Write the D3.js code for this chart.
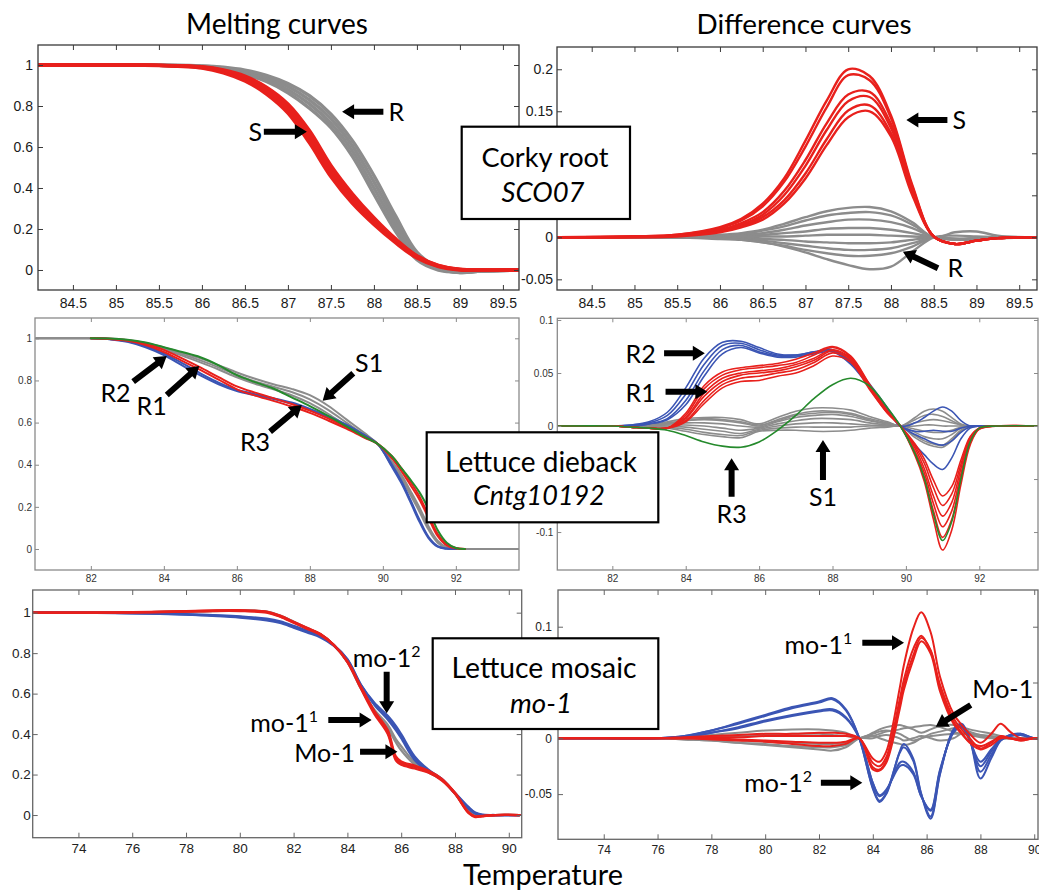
<!DOCTYPE html>
<html><head><meta charset="utf-8">
<script src="https://cdn.jsdelivr.net/npm/d3@7"></script>
<style>
body{margin:0;background:#fff;}
svg{display:block;}
</style></head><body>
<svg id="chart" width="1039" height="890"></svg>
<script>
// ---------------- DATA ----------------
// Corky root SCO07 : melting curves
const tempSCOmelt = [84.1,85,85.5,86,86.25,86.5,86.75,87,87.25,87.5,87.75,88,88.25,88.5,88.75,89,89.25,89.7];
const scoMeltS1 = [1,1,0.997,0.985,0.962,0.922,0.858,0.765,0.62,0.455,0.325,0.222,0.133,0.058,0.016,0,-0.002,0];
const scoMeltS2 = [1,1,0.998,0.988,0.967,0.93,0.868,0.78,0.64,0.472,0.342,0.235,0.142,0.063,0.019,0.002,0,0];
const scoMeltS3 = [1,1,0.998,0.99,0.972,0.938,0.88,0.795,0.66,0.49,0.358,0.245,0.148,0.067,0.021,0.003,0,0];
const scoMeltS4 = [1,1,0.999,0.992,0.976,0.946,0.892,0.81,0.68,0.51,0.372,0.255,0.153,0.07,0.023,0.004,0,0];
const scoMeltR1 = [1,1,0.998,0.99,0.98,0.955,0.92,0.865,0.79,0.695,0.555,0.37,0.19,0.05,0,-0.01,-0.004,0];
const scoMeltR2 = [1,1,0.998,0.992,0.983,0.962,0.93,0.88,0.81,0.715,0.58,0.4,0.215,0.062,0.004,-0.011,-0.005,0];
const scoMeltR3 = [1,1,0.999,0.994,0.986,0.968,0.94,0.895,0.83,0.738,0.605,0.43,0.24,0.075,0.008,-0.012,-0.005,0];
const scoMeltR4 = [1,1,0.999,0.996,0.989,0.975,0.95,0.91,0.85,0.76,0.63,0.46,0.265,0.087,0.012,-0.012,-0.005,0];

// Corky root SCO07 : difference curves
const tempSCOdiff = [84.1,85,85.5,86,86.25,86.5,86.75,87,87.25,87.5,87.75,88,88.25,88.5,88.75,89,89.25,89.7];
const scoDiffS1 = [0,0.001,0.003,0.012,0.022,0.04,0.07,0.115,0.163,0.2,0.192,0.145,0.062,0.001,-0.008,-0.004,-0.001,0];
const scoDiffS2 = [0,0.001,0.003,0.011,0.02,0.037,0.066,0.108,0.155,0.193,0.187,0.142,0.06,0.001,-0.008,-0.004,-0.001,0];
const scoDiffS3 = [0,0.001,0.002,0.009,0.017,0.03,0.055,0.092,0.136,0.17,0.173,0.135,0.058,0.001,-0.008,-0.004,-0.001,0];
const scoDiffS4 = [0,0.001,0.002,0.008,0.015,0.027,0.05,0.085,0.128,0.162,0.167,0.13,0.056,0.001,-0.008,-0.004,-0.001,0];
const scoDiffS5 = [0,0,0.002,0.007,0.013,0.024,0.044,0.076,0.117,0.151,0.157,0.124,0.053,0.001,-0.008,-0.004,-0.001,0];
const scoDiffS6 = [0,0,0.001,0.006,0.012,0.021,0.04,0.07,0.11,0.143,0.15,0.12,0.05,0.001,-0.008,-0.004,-0.001,0];
const scoDiffR1 = [0,0,0.001,0.003,0.005,0.009,0.016,0.024,0.031,0.035,0.036,0.031,0.018,0,0.006,0.007,0.002,0];
const scoDiffR2 = [0,0,0.001,0.002,0.004,0.008,0.013,0.02,0.026,0.029,0.03,0.026,0.015,0,-0.002,-0.002,-0.001,0];
const scoDiffR3 = [0,0,0,0.001,0.003,0.005,0.009,0.014,0.018,0.021,0.021,0.018,0.011,0,-0.002,-0.002,-0.001,0];
const scoDiffR4 = [0,0,0,0.001,0.002,0.003,0.005,0.007,0.01,0.011,0.011,0.009,0.005,0,-0.003,-0.002,0,0];
const scoDiffR5 = [0,0,0,0,0,0.001,0.001,0.002,0.003,0.003,0.003,0.002,0.001,0,-0.003,-0.002,0,0];
const scoDiffR6 = [0,0,0,0,-0.001,-0.002,-0.003,-0.005,-0.006,-0.007,-0.007,-0.006,-0.003,0,-0.002,-0.002,0,0];
const scoDiffR7 = [0,0,0,-0.001,-0.002,-0.004,-0.007,-0.01,-0.013,-0.015,-0.015,-0.013,-0.007,0,-0.002,-0.001,0,0];
const scoDiffR8 = [0,0,0,-0.002,-0.003,-0.006,-0.01,-0.015,-0.019,-0.022,-0.022,-0.019,-0.011,0,-0.002,-0.001,0,0];
const scoDiffR9 = [0,0,0,-0.001,-0.003,-0.006,-0.011,-0.018,-0.026,-0.033,-0.038,-0.035,-0.017,0,0.002,0.001,0,0];

// Lettuce dieback Cntg10192 : melting curves
const tempCntgMelt = [80.5,82,82.5,83,83.5,84,84.5,85,85.5,86,86.5,87,87.5,88,88.5,89,89.5,89.85,90.25,90.5,90.75,91,91.25,91.5,91.75,92,92.25,93.7];
const cntgMeltS1a = [1,1,0.999,0.992,0.978,0.957,0.932,0.905,0.873,0.838,0.808,0.782,0.76,0.73,0.68,0.615,0.55,0.5,0.415,0.355,0.278,0.198,0.108,0.04,0.008,0,0,0];
const cntgMeltS1b = [1,1,0.998,0.99,0.975,0.952,0.925,0.895,0.862,0.826,0.795,0.77,0.745,0.71,0.66,0.6,0.54,0.5,0.405,0.345,0.268,0.188,0.1,0.035,0.006,0,0,0];
const cntgMeltS1c = [1,1,0.997,0.988,0.972,0.947,0.918,0.886,0.852,0.815,0.784,0.758,0.73,0.692,0.642,0.585,0.53,0.5,0.395,0.335,0.258,0.178,0.092,0.03,0.004,0,0,0];
const cntgMeltR2a = [null,1,0.997,0.986,0.962,0.928,0.882,0.834,0.79,0.756,0.735,0.716,0.695,0.665,0.63,0.59,0.54,0.5,0.4,0.325,0.235,0.14,0.058,0.014,0.002,0,null,null];
const cntgMeltR2b = [null,1,0.996,0.983,0.957,0.92,0.872,0.824,0.782,0.75,0.73,0.712,0.69,0.66,0.625,0.585,0.537,0.5,0.39,0.315,0.225,0.13,0.052,0.011,0.001,0,null,null];
const cntgMeltR1a = [null,1,0.998,0.991,0.975,0.945,0.905,0.862,0.816,0.772,0.742,0.716,0.688,0.657,0.62,0.578,0.532,0.5,0.44,0.385,0.32,0.25,0.16,0.072,0.022,0.005,0,null];
const cntgMeltR1b = [null,1,0.997,0.988,0.968,0.935,0.893,0.85,0.804,0.758,0.728,0.703,0.676,0.646,0.61,0.571,0.528,0.5,0.43,0.372,0.305,0.235,0.148,0.062,0.017,0.003,0,null];
const cntgMeltR3 = [null,1,0.999,0.993,0.98,0.958,0.935,0.91,0.872,0.825,0.792,0.762,0.72,0.678,0.632,0.582,0.532,0.5,0.44,0.385,0.33,0.27,0.19,0.09,0.03,0.005,0,null];

// Lettuce dieback Cntg10192 : difference curves
const tempCntgDiff = [80.5,82,82.5,83,83.5,84,84.5,85,85.5,86,86.5,87,87.5,88,88.5,89,89.5,89.85,90.25,90.5,90.75,91,91.25,91.5,91.75,92,92.5,93.6];
const cntgDiffS1a = [0,0,0,0.001,0.004,0.007,0.008,0.008,0.006,0.002,0.008,0.014,0.017,0.017,0.015,0.009,0.004,0,0.008,0.014,0.016,0.014,0.008,0.002,0,0,0,0];
const cntgDiffS1b = [0,0,0,0.001,0.003,0.005,0.006,0.005,0.003,0,0.006,0.011,0.014,0.014,0.012,0.007,0.003,0,0.006,0.01,0.011,0.009,0.005,0.001,0,0,0,0];
const cntgDiffS1c = [0,0,0,0,0.002,0.003,0.003,0.002,0,-0.001,0.004,0.008,0.01,0.011,0.009,0.005,0.002,0,0.003,0.005,0.006,0.005,0.003,0.001,0,0,0,0];
const cntgDiffS1d = [0,0,0,0,0.001,0.001,0,-0.002,-0.004,-0.002,0.002,0.005,0.007,0.007,0.006,0.003,0.001,0,0,0.001,0.001,0,0,0,0,0,0,0];
const cntgDiffS1e = [0,0,0,0,0,-0.001,-0.003,-0.005,-0.007,-0.003,0,0.002,0.003,0.003,0.002,0.001,0,0,-0.003,-0.005,-0.006,-0.006,-0.004,-0.001,0,0,0,0];
const cntgDiffS1f = [0,0,0,-0.001,-0.001,-0.003,-0.006,-0.008,-0.009,-0.004,-0.002,-0.001,-0.001,-0.001,-0.001,0,0,0,-0.006,-0.01,-0.012,-0.012,-0.008,-0.002,0,0,0,0];
const cntgDiffS1g = [0,0,0,-0.001,-0.002,-0.005,-0.008,-0.01,-0.011,-0.005,-0.004,-0.004,-0.005,-0.005,-0.004,-0.002,-0.001,0,-0.009,-0.014,-0.017,-0.018,-0.012,-0.004,0,0,0,0];
const cntgDiffS1h = [0,0,0,0,0.002,0.005,0.007,0.006,0.004,0.001,0.005,0.01,0.012,0.013,0.011,0.006,0.002,0,-0.011,-0.016,-0.019,-0.02,-0.014,-0.005,-0.001,0,0,0];
const cntgDiffR2a = [0,0,0.001,0.004,0.013,0.036,0.064,0.079,0.08,0.074,0.068,0.067,0.07,0.072,0.061,0.04,0.017,0,-0.018,-0.027,-0.036,-0.041,-0.03,-0.012,-0.002,0,0,0];
const cntgDiffR2b = [0,0,0.001,0.003,0.01,0.03,0.058,0.076,0.078,0.072,0.067,0.067,0.07,0.072,0.06,0.039,0.016,0,-0.008,-0.012,-0.016,-0.018,-0.014,-0.006,-0.001,0,0,0];
const cntgDiffR2c = [0,0,0,0.002,0.007,0.024,0.052,0.072,0.076,0.07,0.066,0.066,0.069,0.071,0.059,0.038,0.016,0,0.003,0.008,0.014,0.018,0.014,0.005,0,0,0,0];
const cntgDiffR2d = [0,0,0,0.002,0.006,0.02,0.047,0.068,0.074,0.069,0.065,0.065,0.068,0.07,0.058,0.037,0.015,0,-0.005,-0.005,-0.004,-0.005,-0.005,-0.002,0,0,0,0];
const cntgDiffR1a = [0,0,-0.001,-0.002,-0.002,0.012,0.038,0.051,0.055,0.057,0.059,0.063,0.069,0.075,0.066,0.04,0.014,0,-0.028,-0.052,-0.088,-0.117,-0.098,-0.055,-0.018,-0.003,0,0];
const cntgDiffR1b = [0,0,-0.001,-0.002,-0.002,0.01,0.035,0.048,0.053,0.055,0.057,0.06,0.067,0.074,0.065,0.039,0.014,0,-0.026,-0.048,-0.08,-0.105,-0.088,-0.05,-0.016,-0.003,0,0];
const cntgDiffR1c = [0,0,-0.001,-0.002,-0.002,0.008,0.031,0.045,0.05,0.052,0.054,0.058,0.064,0.072,0.064,0.038,0.013,0,-0.024,-0.044,-0.073,-0.095,-0.08,-0.045,-0.014,-0.002,0,0];
const cntgDiffR1d = [0,0,-0.001,-0.002,-0.002,0.007,0.028,0.042,0.048,0.05,0.052,0.056,0.062,0.071,0.063,0.037,0.013,0,-0.021,-0.04,-0.066,-0.085,-0.072,-0.04,-0.012,-0.002,0,0];
const cntgDiffR1e = [0,0,-0.001,-0.002,-0.002,0.005,0.024,0.039,0.045,0.047,0.05,0.053,0.06,0.069,0.062,0.036,0.012,0,-0.019,-0.035,-0.058,-0.075,-0.064,-0.036,-0.011,-0.002,0,0];
const cntgDiffR1f = [0,0,-0.001,-0.002,-0.002,0.004,0.021,0.036,0.042,0.043,0.047,0.05,0.057,0.066,0.06,0.035,0.012,0,-0.017,-0.031,-0.051,-0.066,-0.057,-0.032,-0.01,-0.002,0,0];
const cntgDiffR3 = [0,0,-0.001,-0.002,-0.004,-0.009,-0.015,-0.019,-0.02,-0.015,-0.004,0.01,0.026,0.039,0.045,0.038,0.017,0,-0.026,-0.049,-0.083,-0.108,-0.09,-0.05,-0.015,-0.002,0,0];

// Lettuce mosaic mo-1 : melting curves
const tempMoMelt = [72.3,74,76,78,79,80,81,81.5,82,82.5,83,83.5,84,84.5,85,85.5,85.8,86,86.5,87,87.5,88,88.5,88.75,89,89.5,90.4];
const moMeltM1a = [1,1,1.002,1.008,1.011,1.012,1.005,0.985,0.955,0.925,0.895,0.84,0.755,0.625,0.5,0.4,0.27,0.248,0.23,0.21,0.172,0.105,0.01,-0.01,-0.006,0,0];
const moMeltM1b = [1,1,1.001,1.006,1.009,1.01,1.003,0.982,0.952,0.922,0.893,0.84,0.758,0.63,0.51,0.41,0.28,0.256,0.238,0.216,0.176,0.108,0.012,-0.008,-0.005,0,0];
const moMeltM1c = [1,1,1.001,1.005,1.008,1.008,1,0.98,0.95,0.92,0.89,0.838,0.76,0.635,0.515,0.42,0.29,0.265,0.244,0.22,0.18,0.11,0.015,-0.006,-0.004,0,0];
const moMeltM2a = [1,1,0.998,0.993,0.988,0.982,0.97,0.957,0.935,0.91,0.885,0.84,0.77,0.645,0.555,0.49,0.44,0.4,0.29,0.225,0.18,0.11,0.04,0.012,0.002,0,0];
const moMeltM2b = [1,1,0.998,0.992,0.986,0.979,0.966,0.953,0.93,0.906,0.882,0.838,0.768,0.642,0.55,0.48,0.43,0.39,0.28,0.22,0.178,0.108,0.035,0.01,0.001,0,0];
const moMeltM2c = [1,1,0.997,0.99,0.984,0.976,0.962,0.949,0.926,0.902,0.878,0.836,0.765,0.64,0.545,0.472,0.42,0.38,0.272,0.215,0.176,0.106,0.032,0.008,0,0,0];
const moMeltWTa = [1,1,1.001,1.005,1.008,1.01,1.004,0.984,0.955,0.924,0.893,0.84,0.758,0.63,0.52,0.445,0.375,0.34,0.26,0.215,0.176,0.107,0.02,0,-0.003,0,0];
const moMeltWTb = [1,1,1.001,1.006,1.009,1.011,1.005,0.985,0.955,0.924,0.892,0.838,0.755,0.625,0.515,0.43,0.36,0.32,0.25,0.212,0.175,0.106,0.018,-0.002,-0.004,0,0];

// Lettuce mosaic mo-1 : difference curves
const tempMoDiff = [72.3,74,76,77,78,79,80,81,82,82.5,83,83.5,84,84.25,84.5,85,85.15,85.5,85.8,86.15,86.5,87,87.3,87.6,88,88.4,88.75,89.1,89.5,90,90.4];
const moDiffM2a = [0,0,0,0.002,0.007,0.014,0.021,0.028,0.033,0.036,0.026,0,-0.045,-0.057,-0.05,-0.012,-0.005,-0.018,-0.05,-0.072,-0.032,0.008,0.013,0,-0.036,-0.018,-0.002,0.003,0.004,0,0];
const moDiffM2b = [0,0,0,0.002,0.007,0.013,0.02,0.027,0.032,0.035,0.025,0,-0.044,-0.056,-0.049,-0.013,-0.008,-0.02,-0.05,-0.07,-0.031,0.007,0.012,-0.001,-0.03,-0.015,-0.002,0.003,0.004,0,0];
const moDiffM2c = [0,0,0,0.001,0.005,0.01,0.016,0.021,0.025,0.026,0.019,0,-0.04,-0.052,-0.047,-0.022,-0.021,-0.03,-0.052,-0.065,-0.029,0.006,0.011,-0.001,-0.025,-0.012,-0.001,0.002,0.003,0,0];
const moDiffM2d = [0,0,0,0.001,0.005,0.009,0.015,0.02,0.024,0.025,0.018,0,-0.04,-0.051,-0.046,-0.025,-0.024,-0.032,-0.052,-0.064,-0.028,0.005,0.01,-0.002,-0.021,-0.01,-0.001,0.002,0.003,0,0];
const moDiffM1a = [0,0,0,0.001,0.002,0.003,0.004,0.004,0.005,0.005,0.004,0,-0.018,-0.021,-0.012,0.045,0.065,0.098,0.113,0.095,0.055,0.022,0.012,0.004,-0.004,0.004,0.013,0.006,0,0,0];
const moDiffM1b = [0,0,0,0,0.001,0.001,0.002,0.002,0.002,0.002,0.002,0,-0.022,-0.025,-0.017,0.035,0.052,0.08,0.092,0.078,0.048,0.018,0.008,0,-0.009,-0.004,0.002,0,-0.002,0,0];
const moDiffM1c = [0,0,0,0,0,-0.001,-0.002,-0.003,-0.004,-0.004,-0.003,0,-0.026,-0.028,-0.02,0.03,0.047,0.074,0.09,0.079,0.045,0.015,0.005,-0.004,-0.01,-0.006,0,0,-0.002,0,0];
const moDiffM1d = [0,0,0,0,-0.001,-0.002,-0.003,-0.005,-0.007,-0.007,-0.005,0,-0.028,-0.029,-0.022,0.026,0.043,0.07,0.087,0.076,0.042,0.013,0.004,-0.003,-0.007,-0.003,0.001,0,-0.001,0,0];
const moDiffWTa = [0,0,0,0.001,0.003,0.005,0.007,0.008,0.008,0.007,0.005,0,0.005,0.008,0.01,0.012,0.011,0.008,0.005,0.008,0.011,0.012,0.01,0.008,0.006,0.004,0.002,0,0,0,0];
const moDiffWTb = [0,0,0,0,0.001,0.002,0.003,0.004,0.004,0.003,0.002,0,0.002,0.004,0.006,0.008,0.009,0.01,0.011,0.012,0.01,0.006,0.004,0.004,0.003,0.002,0.001,0,0,0,0];
const moDiffWTc = [0,0,0,0,-0.001,-0.002,-0.003,-0.004,-0.005,-0.005,-0.004,0,0.004,0.006,0.007,0.004,0.002,-0.002,0,0.004,0.006,0.009,0.01,0.006,0.003,0.001,0,0,0,0,0];
const moDiffWTd = [0,0,0,-0.001,-0.002,-0.004,-0.006,-0.008,-0.01,-0.011,-0.008,0,0.002,0,-0.002,-0.005,-0.006,-0.004,0,0.002,0.003,0.004,0.004,0.003,0.001,0,0,0,0,0,0];
const moDiffWTe = [0,0,0,-0.001,-0.002,-0.004,-0.005,-0.007,-0.008,-0.008,-0.006,0,0,0.002,0.003,0,-0.002,0,0.002,0,-0.002,0,0.004,0.003,0.002,0.001,0,0,0,0,0];

// tick values and labels ('' = label hidden behind a gene box in the original)
const ticksSCO = [84.5,85,85.5,86,86.5,87,87.5,88,88.5,89,89.5];
const ticksSCOLabels = ['84.5','85','85.5','86','86.5','87','87.5','88','88.5','89','89.5'];
const ticksCntg = [82,84,86,88,90,92];
const ticksCntgLabels = ['82','84','86','88','90','92'];
const ticksMo = [74,76,78,80,82,84,86,88,90];
const ticksMoLabels = ['74','76','78','80','82','84','86','88','90'];
const ticksMelt = [0,0.2,0.4,0.6,0.8,1];
const ticksMeltLabels = ['0','0.2','0.4','0.6','0.8','1'];
const ticksDiffSCO = [-0.05,0,0.05,0.1,0.15,0.2];
const ticksDiffSCOLabels = ['-0.05','0','','','0.15','0.2'];
const ticksDiffCntg = [-0.1,-0.05,0,0.05,0.1];
const ticksDiffCntgLabels = ['-0.1','','0','0.05','0.1'];
const ticksDiffMo = [-0.05,0,0.05,0.1];
const ticksDiffMoLabels = ['-0.05','0','','0.1'];

// annotations: arrows [tailX, tailY, tipX, tipY] and labels (data coordinates)
const arrowsSCOmelt = [[88.11,0.772,87.63,0.772],[86.72,0.675,87.22,0.675]];
const labelsSCOmelt = [{t:'R',x:88.17,y:0.728,a:'start'},{t:'S',x:86.70,y:0.629,a:'end'}];
const arrowsSCOdiff = [[88.66,0.1396,88.18,0.1396],[88.55,-0.0369,88.14,-0.0171]];
const labelsSCOdiff = [{t:'S',x:88.72,y:0.1286,a:'start'},{t:'R',x:88.66,y:-0.0469,a:'start'}];
const arrowsCntgMelt = [[83.16,0.794,84.08,0.916],[84.08,0.731,84.97,0.869],[89.19,0.834,88.35,0.704],[86.91,0.557,87.78,0.683]];
const labelsCntgMelt = [{t:'R2',x:83.09,y:0.699,a:'end'},{t:'R1',x:84.08,y:0.636,a:'end'},{t:'S1',x:89.24,y:0.839,a:'start'},{t:'R3',x:86.91,y:0.467,a:'end'}];
const arrowsCntgDiff = [[83.41,0.0686,84.52,0.0686],[83.45,0.0324,84.59,0.0324],[85.25,-0.0667,85.25,-0.0305],[87.74,-0.051,87.74,-0.0132]];
const labelsCntgDiff = [{t:'R2',x:83.18,y:0.0597,a:'end'},{t:'R1',x:83.18,y:0.0229,a:'end'},{t:'R3',x:85.25,y:-0.0918,a:'middle'},{t:'S1',x:87.74,y:-0.0755,a:'middle'}];
const arrowsMoMelt = [[85.46,0.708,85.46,0.503],[83.29,0.47,84.9,0.47],[84.47,0.313,85.86,0.313]];
const labelsMoMelt = [{t:'mo-1',sup:'2',x:85.46,y:0.73,a:'middle'},{t:'mo-1',sup:'1',x:82.91,y:0.412,a:'end'},{t:'Mo-1',x:84.28,y:0.263,a:'end'}];
const arrowsMoDiff = [[83.61,0.0857,85.16,0.0857],[82.07,-0.0398,83.61,-0.0398],[87.64,0.0298,86.34,0.0104]];
const labelsMoDiff = [{t:'mo-1',sup:'1',x:83.24,y:0.0755,a:'end'},{t:'mo-1',sup:'2',x:81.74,y:-0.0484,a:'end'},{t:'Mo-1',x:87.7,y:0.0358,a:'start'}];

const columnTitles = ['Melting curves','Difference curves'];
const geneBoxes = [['Corky root','SCO07'],['Lettuce dieback','Cntg10192'],['Lettuce mosaic','mo-1']];
const xAxisTitle = 'Temperature';

// ---------------- STYLE / LAYOUT ----------------
const RED='#e8201c', GRAY='#8c8c8c', BLUE='#3b55b4', GREEN='#258a2c';
const FONT = 'Lato, "Open Sans", sans-serif';
const TICKFONT = '"Liberation Sans", Arial, sans-serif';

const svg = d3.select('#chart');
svg.append('rect').attr('width',1039).attr('height',890).attr('fill','#fff');

const panels = [
 {key:'A', box:[38,45,519,290], xd:[84.094,89.687], yd:[-0.0976,1.0976], temps:tempSCOmelt,
  xt:ticksSCO, xl:ticksSCOLabels, yt:ticksMelt, yl:ticksMeltLabels, fs:14, xb:17.7, yp:5, ac:'#3a3a3a', tc:'#1a1a1a', lw:3.4, tick:5,
  series:[[scoMeltR1,GRAY],[scoMeltR2,GRAY],[scoMeltR3,GRAY],[scoMeltR4,GRAY],[scoMeltS1,RED],[scoMeltS2,RED],[scoMeltS3,RED],[scoMeltS4,RED]],
  arrows:arrowsSCOmelt, labels:labelsSCOmelt},
 {key:'B', box:[557,47,1037,290], xd:[84.094,89.708], yd:[-0.0627,0.2265], temps:tempSCOdiff,
  xt:ticksSCO, xl:ticksSCOLabels, yt:ticksDiffSCO, yl:ticksDiffSCOLabels, fs:14, xb:17.7, yp:4, ac:'#3a3a3a', tc:'#1a1a1a', lw:2.4, tick:5,
  series:[[scoDiffR1,GRAY],[scoDiffR2,GRAY],[scoDiffR3,GRAY],[scoDiffR4,GRAY],[scoDiffR5,GRAY],[scoDiffR6,GRAY],[scoDiffR7,GRAY],[scoDiffR8,GRAY],[scoDiffR9,GRAY],
          [scoDiffS1,RED],[scoDiffS2,RED],[scoDiffS3,RED],[scoDiffS4,RED],[scoDiffS5,RED],[scoDiffS6,RED]],
  arrows:arrowsSCOdiff, labels:labelsSCOdiff},
 {key:'C', box:[35,318,519,570], xd:[80.47,93.73], yd:[-0.0997,1.0964], temps:tempCntgMelt,
  xt:ticksCntg, xl:ticksCntgLabels, yt:ticksMelt, yl:ticksMeltLabels, fs:10, xb:12, yp:3, ac:'#8a8a8a', tc:'#333', lw:2, tick:4,
  series:[[cntgMeltS1a,GRAY],[cntgMeltS1b,GRAY],[cntgMeltS1c,GRAY],[cntgMeltR2a,BLUE],[cntgMeltR2b,BLUE],[cntgMeltR1a,RED],[cntgMeltR1b,RED],[cntgMeltR3,GREEN]],
  arrows:arrowsCntgMelt, labels:labelsCntgMelt},
 {key:'D', box:[557.3,318.3,1038,570], xd:[80.5,93.6], yd:[-0.1358,0.1016], temps:tempCntgDiff,
  xt:ticksCntg, xl:ticksCntgLabels, yt:ticksDiffCntg, yl:ticksDiffCntgLabels, fs:10, xb:12, yp:4, ac:'#8a8a8a', tc:'#333', lw:1.6, tick:4,
  series:[[cntgDiffS1a,GRAY],[cntgDiffS1b,GRAY],[cntgDiffS1c,GRAY],[cntgDiffS1d,GRAY],[cntgDiffS1e,GRAY],[cntgDiffS1f,GRAY],[cntgDiffS1g,GRAY],[cntgDiffS1h,GRAY],
          [cntgDiffR2a,BLUE],[cntgDiffR2b,BLUE],[cntgDiffR2c,BLUE],[cntgDiffR2d,BLUE],
          [cntgDiffR1a,RED],[cntgDiffR1b,RED],[cntgDiffR1c,RED],[cntgDiffR1d,RED],[cntgDiffR1e,RED],[cntgDiffR1f,RED],[cntgDiffR3,GREEN]],
  arrows:arrowsCntgDiff, labels:labelsCntgDiff},
 {key:'E', box:[32.7,590,521.7,837.7], xd:[72.3,90.48], yd:[-0.112,1.112], temps:tempMoMelt,
  xt:ticksMo, xl:ticksMoLabels, yt:ticksMelt, yl:ticksMeltLabels, fs:13.5, xb:15, yp:2, ac:'#666', tc:'#222', lw:2.3, tick:5,
  series:[[moMeltWTa,GRAY],[moMeltWTb,GRAY],[moMeltM2a,BLUE],[moMeltM2b,BLUE],[moMeltM2c,BLUE],[moMeltM1a,RED],[moMeltM1b,RED],[moMeltM1c,RED]],
  arrows:arrowsMoMelt, labels:labelsMoMelt},
 {key:'F', box:[558,590,1038,839.3], xd:[72.3,90.14], yd:[-0.0905,0.1329], temps:tempMoDiff,
  xt:ticksMo, xl:ticksMoLabels, yt:ticksDiffMo, yl:ticksDiffMoLabels, fs:12, xb:14.5, yp:6, ac:'#666', tc:'#222', lw:2, tick:5,
  series:[[moDiffWTa,GRAY],[moDiffWTb,GRAY],[moDiffWTc,GRAY],[moDiffWTd,GRAY],[moDiffWTe,GRAY],
          [moDiffM2a,BLUE],[moDiffM2b,BLUE],[moDiffM2c,BLUE],[moDiffM2d,BLUE],
          [moDiffM1a,RED],[moDiffM1b,RED],[moDiffM1c,RED],[moDiffM1d,RED]],
  arrows:arrowsMoDiff, labels:labelsMoDiff}
];

const defs = svg.append('defs');
const annoLayer = [];

function arrowPoints(x1,y1,x2,y2){
  const dx=x2-x1, dy=y2-y1, len=Math.hypot(dx,dy);
  const ux=dx/len, uy=dy/len, nx=-uy, ny=ux;
  const w=3, L=12, h=7.5;
  const bx=x2-ux*L, by=y2-uy*L;
  return [[x1+nx*w,y1+ny*w],[bx+nx*w,by+ny*w],[bx+nx*h,by+ny*h],[x2,y2],[bx-nx*h,by-ny*h],[bx-nx*w,by-ny*w],[x1-nx*w,y1-ny*w]];
}

panels.forEach(p=>{
  const [l,t,r,b]=p.box;
  const x=d3.scaleLinear().domain(p.xd).range([l,r]);
  const y=d3.scaleLinear().domain(p.yd).range([b,t]);
  const g=svg.append('g');
  defs.append('clipPath').attr('id','clip'+p.key).append('rect')
    .attr('x',l).attr('y',t).attr('width',r-l).attr('height',b-t);

  const line=d3.line().defined(d=>d[1]!=null).x(d=>x(d[0])).y(d=>y(d[1]))
    .curve(d3.curveCatmullRom.alpha(0.5));
  const cg=g.append('g').attr('clip-path',`url(#clip${p.key})`);
  p.series.forEach(([vals,col])=>{
    cg.append('path').attr('d',line(p.temps.map((tt,i)=>[tt,vals[i]])))
      .attr('fill','none').attr('stroke',col).attr('stroke-width',p.lw)
      .attr('stroke-linejoin','round').attr('stroke-linecap','round');
  });

  const styleAxis=(ag)=>{
    ag.select('.domain').remove();
    ag.attr('color',p.ac).attr('font-family',TICKFONT).attr('font-size',p.fs);
    ag.selectAll('text').attr('fill',p.tc);
    ag.selectAll('text').filter(function(){return this.textContent==='';}).remove();
  };
  g.append('g').attr('transform',`translate(0,${b})`)
    .call(d3.axisBottom(x).tickValues(p.xt).tickFormat((d,i)=>p.xl[i]).tickSizeInner(-p.tick).tickSizeOuter(0).tickPadding(p.xb-0.71*p.fs))
    .call(styleAxis);
  g.append('g').attr('transform',`translate(0,${t})`)
    .call(d3.axisTop(x).tickValues(p.xt).tickFormat('').tickSizeInner(-p.tick).tickSizeOuter(0))
    .call(styleAxis);
  g.append('g').attr('transform',`translate(${l},0)`)
    .call(d3.axisLeft(y).tickValues(p.yt).tickFormat((d,i)=>p.yl[i]).tickSizeInner(-p.tick).tickSizeOuter(0).tickPadding(p.yp))
    .call(styleAxis);
  g.append('g').attr('transform',`translate(${r},0)`)
    .call(d3.axisRight(y).tickValues(p.yt).tickFormat('').tickSizeInner(-p.tick).tickSizeOuter(0))
    .call(styleAxis);
  g.append('rect').attr('x',l).attr('y',t).attr('width',r-l).attr('height',b-t)
    .attr('fill','none').attr('stroke',p.ac).attr('stroke-width',1.3);

  annoLayer.push({p,x,y});
});

// annotations on top
const ag=svg.append('g');
annoLayer.forEach(({p,x,y})=>{
  p.arrows.forEach(a=>{
    const pts=arrowPoints(x(a[0]),y(a[1]),x(a[2]),y(a[3]));
    ag.append('polygon').attr('points',pts.map(q=>q.join(',')).join(' ')).attr('fill','#000');
  });
  p.labels.forEach(lb=>{
    const tx=ag.append('text').attr('x',x(lb.x)).attr('y',y(lb.y)).attr('text-anchor',lb.a)
      .attr('font-family',FONT).attr('font-size',25).attr('fill','#000').text(lb.t);
    if(lb.sup){ tx.append('tspan').attr('dy',-10).attr('font-size',16).text(lb.sup); }
  });
});

function fitText(sel,w){
  const cur=sel.node().getComputedTextLength();
  const fs=parseFloat(sel.attr('font-size'));
  if(cur>0) sel.attr('font-size',fs*w/cur);
}

// gene boxes
const boxGeo=[[461.7,126.7,630,219, 545,166.7,127, 543,201.7,83],
              [426.7,432.3,658.3,522.3, 541,471.7,192, 539,505,132],
              [432.7,638.3,658.3,729, 544,678.3,185, 541,713.3,62]];
geneBoxes.forEach((bx,i)=>{
  const G=boxGeo[i];
  svg.append('rect').attr('x',G[0]).attr('y',G[1]).attr('width',G[2]-G[0]).attr('height',G[3]-G[1])
    .attr('fill','#fff').attr('stroke','#000').attr('stroke-width',2.2);
  const t1=svg.append('text').attr('x',G[4]).attr('y',G[5]).attr('text-anchor','middle')
    .attr('font-family',FONT).attr('font-size',27).attr('fill','#000').text(bx[0]);
  fitText(t1,G[6]);
  const t2=svg.append('text').attr('x',G[7]).attr('y',G[8]).attr('text-anchor','middle')
    .attr('font-family',FONT).attr('font-style','italic').attr('font-size',27).attr('fill','#000').text(bx[1]);
  fitText(t2,G[9]);
});

// titles
const titleGeo=[[277,34,182],[804,34,215]];
columnTitles.forEach((tt,i)=>{
  const s=svg.append('text').attr('x',titleGeo[i][0]).attr('y',titleGeo[i][1]).attr('text-anchor','middle')
    .attr('font-family',FONT).attr('font-size',28).attr('fill','#000').text(tt);
  fitText(s,titleGeo[i][2]);
});
const xt=svg.append('text').attr('x',543).attr('y',885).attr('text-anchor','middle')
  .attr('font-family',FONT).attr('font-size',28).attr('fill','#000').text(xAxisTitle);
fitText(xt,160);
</script>
</body></html>
